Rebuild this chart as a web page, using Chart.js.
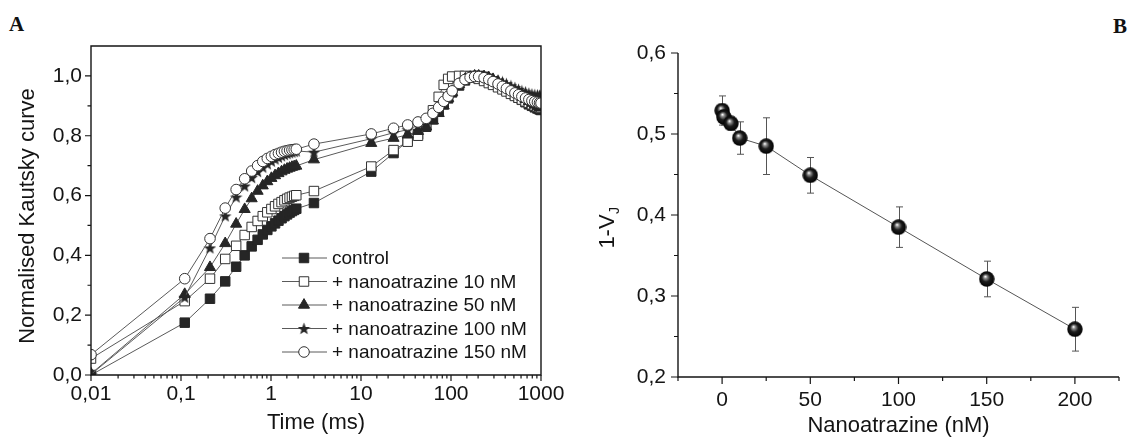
<!DOCTYPE html>
<html>
<head>
<meta charset="utf-8">
<script src="https://cdn.jsdelivr.net/npm/chart.js@4.4.1/dist/chart.umd.min.js"></script>
<style>
  html, body { margin: 0; padding: 0; background: #fff; }
  body { width: 1131px; height: 438px; position: relative; overflow: hidden; }
  canvas { position: absolute; top: 0; }
  #chart-a { left: 0; }
  #chart-b { left: 580px; }
  .panel-label { position: absolute; font: bold 21px/21px "Liberation Serif", "Times New Roman", serif; color: #111; }
</style>
</head>
<body>
<div class="panel-label" style="left:9px;top:14px">A</div>
<div class="panel-label" style="left:1113px;top:16px">B</div>
<canvas id="chart-a" width="600" height="438"></canvas>
<canvas id="chart-b" width="551" height="438"></canvas>
<script>
// ---- Panel A: normalised Kautsky curves ----
const times = [0.01, 0.11, 0.21, 0.31, 0.41, 0.51, 0.61, 0.71, 0.81, 0.91, 1.01, 1.11, 1.21, 1.31, 1.41, 1.51, 1.61, 1.71, 1.81, 1.91, 3,
  13, 23, 33, 43, 53, 63, 73, 83, 93, 103, 123, 143, 163, 183, 203, 233, 263, 293, 333, 373, 413, 463, 513, 563, 613, 673, 733, 793, 853, 913, 963, 1000]

const control = [0.000, 0.175, 0.255, 0.313, 0.362, 0.400, 0.430, 0.452, 0.470, 0.485, 0.497, 0.507, 0.516, 0.524, 0.531, 0.537, 0.543, 0.548, 0.552, 0.556, 0.575,
  0.680, 0.742, 0.782, 0.805, 0.830, 0.855, 0.880, 0.905, 0.925, 0.945, 0.968, 0.985, 0.995, 1.000, 1.000, 0.997, 0.990, 0.982, 0.972, 0.963, 0.955, 0.945, 0.935, 0.927, 0.920, 0.912, 0.905, 0.900, 0.895, 0.891, 0.888, 0.886]
const nano10 = [0.055, 0.247, 0.322, 0.388, 0.432, 0.468, 0.495, 0.515, 0.531, 0.544, 0.555, 0.564, 0.572, 0.578, 0.584, 0.589, 0.593, 0.596, 0.599, 0.601, 0.615,
  0.697, 0.752, 0.780, 0.800, 0.835, 0.885, 0.930, 0.970, 0.990, 0.998, 1.000, 1.000, 0.998, 0.995, 0.990, 0.983, 0.976, 0.970, 0.962, 0.955, 0.948, 0.940, 0.933, 0.927, 0.921, 0.915, 0.910, 0.905, 0.900, 0.897, 0.895, 0.893]
const nano50 = [0.004, 0.270, 0.360, 0.440, 0.505, 0.554, 0.590, 0.615, 0.633, 0.647, 0.658, 0.667, 0.674, 0.680, 0.685, 0.689, 0.692, 0.695, 0.697, 0.699, 0.720,
  0.775, 0.792, 0.803, 0.815, 0.830, 0.850, 0.875, 0.900, 0.925, 0.945, 0.972, 0.988, 0.996, 1.000, 1.000, 0.998, 0.994, 0.988, 0.980, 0.972, 0.964, 0.955, 0.946, 0.938, 0.930, 0.922, 0.915, 0.909, 0.903, 0.898, 0.895, 0.893]
const nano100 = [0.002, 0.260, 0.425, 0.532, 0.595, 0.632, 0.660, 0.680, 0.695, 0.706, 0.715, 0.722, 0.728, 0.733, 0.737, 0.740, 0.743, 0.745, 0.747, 0.749, 0.745,
  0.790, 0.810, 0.820, 0.835, 0.850, 0.868, 0.890, 0.913, 0.935, 0.953, 0.975, 0.990, 0.997, 1.000, 1.000, 0.999, 0.996, 0.992, 0.986, 0.980, 0.974, 0.967, 0.961, 0.955, 0.950, 0.946, 0.942, 0.939, 0.937, 0.936, 0.935, 0.934]
const nano150 = [0.068, 0.322, 0.456, 0.558, 0.620, 0.656, 0.682, 0.700, 0.714, 0.724, 0.731, 0.737, 0.741, 0.745, 0.748, 0.750, 0.752, 0.753, 0.754, 0.755, 0.772,
  0.806, 0.825, 0.836, 0.846, 0.858, 0.875, 0.895, 0.915, 0.932, 0.950, 0.975, 0.988, 0.995, 0.998, 0.998, 0.994, 0.988, 0.981, 0.973, 0.965, 0.958, 0.950, 0.943, 0.937, 0.931, 0.926, 0.921, 0.917, 0.914, 0.912, 0.910, 0.909]

const seriesLabels = ['control', '+ nanoatrazine 10 nM', '+ nanoatrazine 50 nM', '+ nanoatrazine 100 nM', '+ nanoatrazine 150 nM']
const xLabelsA = [0.01, 0.1, 1, 10, 100, 1000]
const yLabelsA = [0, 0.2, 0.4, 0.6, 0.8, 1.0]

// ---- Panel B: 1-VJ against nanoatrazine concentration ----
const concentrations = [0, 1, 5, 10, 25, 50, 100, 150, 200]
const oneMinusVj = [0.529, 0.521, 0.513, 0.495, 0.485, 0.449, 0.385, 0.321, 0.259]
const vjErrors = [0.018, 0.010, 0.008, 0.020, 0.035, 0.022, 0.025, 0.022, 0.027]
const xLabelsB = [0, 50, 100, 150, 200]
const yLabelsB = [0.2, 0.3, 0.4, 0.5, 0.6]

const FONT = '"Liberation Sans", Arial, sans-serif'
const INK = '#141414'
const DARK = '#262626'
const LINE = '#5a5a5a'

const isListed = (value, list) => list.some(v => Math.abs(v - value) < 1e-6 * Math.max(1, Math.abs(v)))
const comma = (v, digits) => (digits == null ? String(v) : v.toFixed(digits)).replace('.', ',')

function makeStar(size, color) {
  const c = document.createElement('canvas')
  c.width = c.height = size
  const g = c.getContext('2d')
  const r = size / 2
  g.beginPath()
  for (let k = 0; k < 10; k++) {
    const a = -Math.PI / 2 + k * Math.PI / 5
    const rr = k % 2 ? r * 0.42 : r
    g.lineTo(r + rr * Math.cos(a), r + 0.6 + rr * Math.sin(a))
  }
  g.closePath()
  g.fillStyle = color
  g.fill()
  return c
}

function makeSphere(d) {
  const c = document.createElement('canvas')
  c.width = c.height = d
  const g = c.getContext('2d')
  const r = d / 2
  const grad = g.createRadialGradient(r - 1.5, r - 2.5, 0.3, r, r, r)
  grad.addColorStop(0, '#ffffff')
  grad.addColorStop(0.18, '#8f8f8f')
  grad.addColorStop(0.5, '#1c1c1c')
  grad.addColorStop(1, '#000000')
  g.beginPath()
  g.arc(r, r, r - 0.3, 0, Math.PI * 2)
  g.fillStyle = grad
  g.fill()
  return c
}

const starImg = makeStar(13, DARK)
const sphereImg = makeSphere(16)

const markerStyles = [
  { pointStyle: 'rect', radius: 6.7, bg: DARK, border: DARK },
  { pointStyle: 'rect', radius: 6.7, bg: '#ffffff', border: '#333' },
  { pointStyle: 'triangle', radius: 6.4, bg: DARK, border: DARK },
  { pointStyle: starImg, radius: 6.5, bg: DARK, border: DARK },
  { pointStyle: 'circle', radius: 5.3, bg: '#ffffff', border: '#333' }
]

// axis lines and outward ticks, drawn from the scales
function framePlugin(cfg) {
  return {
    id: 'frame',
    afterDatasetsDraw(chart) {
      const { ctx, chartArea: a, scales: { x, y } } = chart
      ctx.save()
      ctx.strokeStyle = INK
      ctx.lineWidth = 1.4
      ctx.beginPath()
      if (cfg.box) {
        ctx.rect(a.left, a.top, a.right - a.left, a.bottom - a.top)
      } else {
        const yTop = y.getPixelForValue(y.max)
        ctx.moveTo(a.left, yTop)
        ctx.lineTo(a.left, a.bottom)
        ctx.lineTo(a.right, a.bottom)
      }
      ctx.stroke()
      ctx.lineWidth = 1.2
      ctx.beginPath()
      x.ticks.forEach(t => {
        const px = x.getPixelForValue(t.value)
        if (px < a.left - 0.5 || px > a.right + 0.5) return
        const len = isListed(t.value, cfg.xMajor) ? cfg.major : cfg.minor
        ctx.moveTo(px, a.bottom)
        ctx.lineTo(px, a.bottom + len)
      })
      y.ticks.forEach(t => {
        const py = y.getPixelForValue(t.value)
        if (py < a.top - 0.5 || py > a.bottom + 0.5) return
        if (cfg.box && Math.abs(py - a.top) < 1) return
        const len = isListed(t.value, cfg.yMajor) ? cfg.major : cfg.minor
        ctx.moveTo(a.left, py)
        ctx.lineTo(a.left - len, py)
      })
      ctx.stroke()
      ctx.restore()
    }
  }
}

// axis titles as canvas text
function titlePlugin(cfg) {
  return {
    id: 'titles',
    afterDraw(chart) {
      const { ctx, chartArea: a } = chart
      ctx.save()
      ctx.fillStyle = INK
      ctx.font = `22px ${FONT}`
      ctx.textAlign = 'center'
      ctx.textBaseline = 'alphabetic'
      ctx.fillText(cfg.xTitle, (a.left + a.right) / 2, cfg.xBaseline)
      ctx.translate(cfg.yBaseline, cfg.yCenter)
      ctx.rotate(-Math.PI / 2)
      if (cfg.ySub) {
        const w = ctx.measureText(cfg.yTitle).width
        ctx.font = `14px ${FONT}`
        const ws = ctx.measureText(cfg.ySub).width
        const start = -(w + ws) / 2
        ctx.textAlign = 'left'
        ctx.font = `22px ${FONT}`
        ctx.fillText(cfg.yTitle, start, 0)
        ctx.font = `14px ${FONT}`
        ctx.fillText(cfg.ySub, start + w + 0.5, 5)
      } else {
        ctx.fillText(cfg.yTitle, 0, 0)
      }
      ctx.restore()
    }
  }
}

const legendA = {
  id: 'legendA',
  afterDraw(chart) {
    const { ctx } = chart
    ctx.save()
    ctx.font = `19px ${FONT}`
    ctx.textBaseline = 'middle'
    seriesLabels.forEach((label, i) => {
      const y = 258 + i * 23.5
      const m = markerStyles[i]
      ctx.strokeStyle = LINE
      ctx.lineWidth = 1
      ctx.beginPath()
      ctx.moveTo(282, y)
      ctx.lineTo(327, y)
      ctx.stroke()
      ctx.fillStyle = m.bg
      ctx.strokeStyle = m.border
      Chart.helpers.drawPoint(ctx, { pointStyle: m.pointStyle, radius: m.radius, rotation: 0, borderWidth: 1 }, 304, y)
      ctx.fillStyle = INK
      ctx.fillText(label, 332, y + 1)
    })
    ctx.restore()
  }
}

const seriesA = [control, nano10, nano50, nano100, nano150]

new Chart(document.getElementById('chart-a'), {
  type: 'line',
  data: {
    datasets: seriesA.map((values, i) => ({
      label: seriesLabels[i],
      data: times.map((t, k) => ({ x: t, y: values[k] })),
      order: seriesA.length - 1 - i,
      borderColor: LINE,
      borderWidth: 1,
      pointStyle: markerStyles[i].pointStyle,
      pointRadius: markerStyles[i].radius,
      pointBackgroundColor: markerStyles[i].bg,
      pointBorderColor: markerStyles[i].border,
      pointBorderWidth: 1,
      tension: 0
    }))
  },
  options: {
    responsive: false,
    animation: false,
    devicePixelRatio: 1,
    layout: { padding: { left: 0, top: 46, right: 59, bottom: 0 } },
    plugins: { legend: { display: false }, tooltip: { enabled: false } },
    scales: {
      x: {
        type: 'logarithmic',
        min: 0.01,
        max: 1000,
        grid: { display: false, drawTicks: false },
        border: { display: false },
        ticks: {
          autoSkip: false, maxRotation: 0, minRotation: 0, padding: 7, color: INK,
          font: { family: FONT, size: 21 },
          callback: v => isListed(v, xLabelsA) ? comma(v) : ''
        },
        afterFit: s => { s.height = 63; s.paddingLeft = 0; s.paddingRight = 0 }
      },
      y: {
        min: 0,
        max: 1.1,
        grid: { display: false, drawTicks: false },
        border: { display: false },
        ticks: {
          stepSize: 0.1, autoSkip: false, padding: 9, color: INK,
          font: { family: FONT, size: 21 },
          callback: v => isListed(v, yLabelsA) ? comma(v, 1) : ''
        },
        afterFit: s => { s.width = 91; s.paddingTop = 0; s.paddingBottom = 0 }
      }
    }
  },
  plugins: [
    framePlugin({ box: true, xMajor: xLabelsA, yMajor: yLabelsA, major: 6, minor: 3.5 }),
    titlePlugin({ xTitle: 'Time (ms)', xBaseline: 429, yTitle: 'Normalised Kautsky curve', yBaseline: 34, yCenter: 216 }),
    legendA
  ]
})

const errorBars = {
  id: 'errorBars',
  beforeDatasetsDraw(chart) {
    const { ctx, scales: { x, y } } = chart
    ctx.save()
    ctx.strokeStyle = '#555'
    ctx.lineWidth = 1
    ctx.beginPath()
    concentrations.forEach((c, i) => {
      const px = Math.round(x.getPixelForValue(c)) + 0.5
      const top = y.getPixelForValue(oneMinusVj[i] + vjErrors[i])
      const bot = y.getPixelForValue(oneMinusVj[i] - vjErrors[i])
      ctx.moveTo(px, top)
      ctx.lineTo(px, bot)
      ctx.moveTo(px - 3.5, top)
      ctx.lineTo(px + 3.5, top)
      ctx.moveTo(px - 3.5, bot)
      ctx.lineTo(px + 3.5, bot)
    })
    ctx.stroke()
    ctx.restore()
  }
}

new Chart(document.getElementById('chart-b'), {
  type: 'line',
  data: {
    datasets: [{
      label: '1-VJ',
      data: concentrations.map((c, i) => ({ x: c, y: oneMinusVj[i] })),
      borderColor: '#555',
      borderWidth: 1,
      pointStyle: sphereImg,
      pointRadius: 8,
      tension: 0
    }]
  },
  options: {
    responsive: false,
    animation: false,
    devicePixelRatio: 1,
    layout: { padding: { left: 0, top: 53, right: 12, bottom: 0 } },
    plugins: { legend: { display: false }, tooltip: { enabled: false } },
    scales: {
      x: {
        type: 'linear',
        min: -25,
        max: 225,
        grid: { display: false, drawTicks: false },
        border: { display: false },
        ticks: {
          stepSize: 25, autoSkip: false, maxRotation: 0, minRotation: 0, padding: 11, color: INK,
          font: { family: FONT, size: 21 },
          callback: v => isListed(v, xLabelsB) ? String(v) : ''
        },
        afterFit: s => { s.height = 61; s.paddingLeft = 0; s.paddingRight = 0 }
      },
      y: {
        min: 0.2,
        max: 0.6,
        grid: { display: false, drawTicks: false },
        border: { display: false },
        ticks: {
          stepSize: 0.05, autoSkip: false, padding: 12, color: INK,
          font: { family: FONT, size: 21 },
          callback: v => isListed(v, yLabelsB) ? comma(v, 1) : ''
        },
        afterFit: s => { s.width = 98; s.paddingTop = 0; s.paddingBottom = 0 }
      }
    }
  },
  plugins: [
    errorBars,
    framePlugin({ box: false, xMajor: xLabelsB, yMajor: yLabelsB, major: 7, minor: 4 }),
    titlePlugin({ xTitle: 'Nanoatrazine (nM)', xBaseline: 432, yTitle: '1-V', ySub: 'J', yBaseline: 34, yCenter: 228 })
  ]
})
</script>
</body>
</html>
